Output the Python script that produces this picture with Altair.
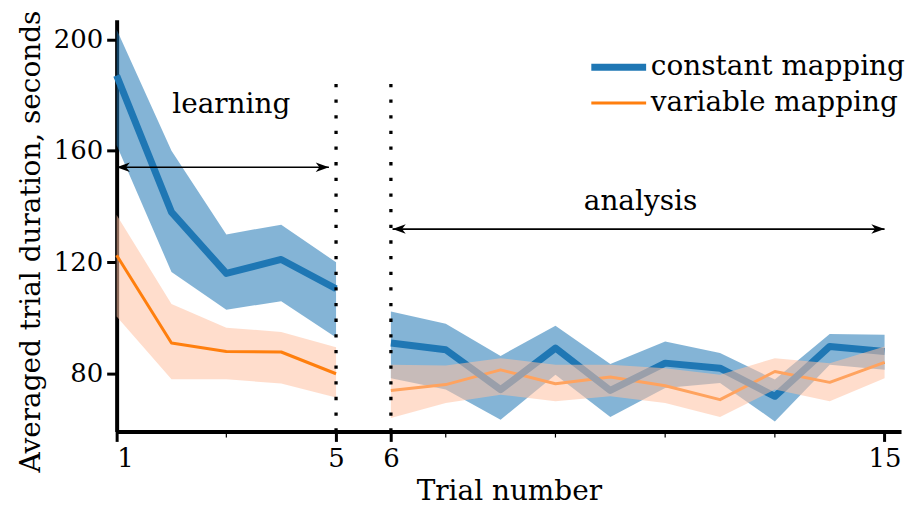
import altair as alt
import pandas as pd

# ---- data ----
series_names = ["constant mapping", "variable mapping"]
trials_learning = [1, 2, 3, 4, 5]
trials_analysis = [6, 7, 8, 9, 10, 11, 12, 13, 14, 15]

const_mean_l = [187.0, 138.0, 116.0, 121.0, 110.5]
const_hi_l = [203.5, 160.0, 130.0, 133.5, 120.0]
const_lo_l = [162.0, 116.5, 103.0, 106.0, 93.0]
var_mean_l = [122.5, 91.0, 88.0, 87.8, 80.0]
var_hi_l = [137.0, 105.0, 96.5, 95.0, 89.5]
var_lo_l = [100.5, 78.0, 78.0, 76.5, 71.5]

const_mean_a = [91.0, 88.6, 74.3, 89.2, 74.0, 83.8, 82.0, 71.9, 89.8, 88.0]
const_hi_a = [102.3, 97.9, 86.4, 97.2, 83.5, 91.6, 87.4, 77.9, 94.3, 94.0]
const_lo_a = [78.4, 74.3, 63.5, 79.6, 64.5, 74.9, 76.7, 62.9, 83.2, 81.4]
var_mean_a = [74.0, 76.1, 81.4, 76.4, 78.8, 75.7, 70.7, 80.8, 76.9, 84.1]
var_hi_a = [83.2, 83.0, 85.6, 83.2, 83.2, 82.0, 79.6, 85.6, 83.8, 89.8]
var_lo_a = [64.1, 69.5, 72.5, 70.1, 71.9, 69.5, 64.5, 74.3, 70.1, 78.4]

# annotations
phase_labels = ["learning", "analysis"]
phase_label_x = [3.09, 10.55]
phase_label_y = [173.5, 138.6]
arrow_x1 = [1.0, 6.03]
arrow_x2 = [4.87, 15.0]
arrow_y = [154.1, 131.9]
divider_x = [5, 6]
divider_top = 186.3
minor_tick_x = [3, 7, 9, 11, 13]
major_tick_x = [1, 5, 6, 15]
y_ticks = [80, 120, 160, 200]

Y_MIN, Y_MAX = 59.3, 207.0
X_MIN, X_MAX = 1.0, 15.3

BLUE = "#1f77b4"
ORANGE = "#ff7f0e"
FONT = "DejaVu Serif"

rows = []
def add(series, segment, trials, mean, lo, hi):
    for t, m, l, h in zip(trials, mean, lo, hi):
        rows.append(dict(trial=t, series=series, segment=segment, mean=m, lo=l, hi=h))

add(series_names[0], "learning", trials_learning, const_mean_l, const_lo_l, const_hi_l)
add(series_names[0], "analysis", trials_analysis, const_mean_a, const_lo_a, const_hi_a)
add(series_names[1], "learning", trials_learning, var_mean_l, var_lo_l, var_hi_l)
add(series_names[1], "analysis", trials_analysis, var_mean_a, var_lo_a, var_hi_a)
df = pd.DataFrame(rows)

xscale = alt.Scale(domain=[X_MIN, X_MAX], nice=False, zero=False)
yscale = alt.Scale(domain=[Y_MIN, Y_MAX], nice=False, zero=False)

x_enc = alt.X("trial:Q", scale=xscale,
              axis=alt.Axis(values=major_tick_x, title="Trial number", format="d",
                            titlePadding=6, labelPadding=4, tickSize=10))
y_lo = alt.Y("lo:Q", scale=yscale,
             axis=alt.Axis(values=y_ticks, title="Averaged trial duration, seconds",
                           titlePadding=8, labelPadding=4, tickSize=10, titleY=222))

base = alt.Chart(df)

const_band = base.transform_filter(alt.datum.series == series_names[0]).mark_area(
    color=BLUE, opacity=0.55).encode(x=x_enc, y=y_lo, y2="hi:Q", detail="segment:N")
var_band = base.transform_filter(alt.datum.series == series_names[1]).mark_area(
    color="#ffc1a2", opacity=0.55).encode(x="trial:Q", y="lo:Q", y2="hi:Q", detail="segment:N")

legend = alt.Legend(title=None, orient="none", legendX=500, legendY=30,
                    symbolType="M-3,0L1,0", symbolSize=756,
                    labelFont=FONT, labelFontSize=28, labelColor="black",
                    labelOffset=1, rowPadding=6, labelLimit=400)
color_enc = alt.Color("series:N", scale=alt.Scale(domain=series_names, range=[BLUE, ORANGE]),
                      legend=legend)
sw_enc = alt.StrokeWidth("series:N", scale=alt.Scale(domain=series_names, range=[7, 3]),
                         legend=legend)

def line_layer(series, segment):
    return base.transform_filter(
        (alt.datum.series == series) & (alt.datum.segment == segment)
    ).mark_line(strokeCap="butt", strokeJoin="round").encode(
        x="trial:Q", y="mean:Q", color=color_enc, strokeWidth=sw_enc)

var_line_a = line_layer(series_names[1], "analysis")
var_line_l = line_layer(series_names[1], "learning")
const_line_a = line_layer(series_names[0], "analysis")
const_line_l = line_layer(series_names[0], "learning")

div_df = pd.DataFrame({"x": divider_x, "y0": [Y_MIN] * 2, "y1": [divider_top] * 2})
dividers = alt.Chart(div_df).mark_rule(color="black", strokeWidth=3.3,
                                       strokeDash=[3.3, 12.4]).encode(
    x="x:Q", y="y0:Q", y2="y1:Q")

arr_df = pd.DataFrame({"x1": arrow_x1, "x2": arrow_x2, "y": arrow_y})
shafts = alt.Chart(arr_df).mark_rule(color="black", strokeWidth=1.6).encode(
    x="x1:Q", x2="x2:Q", y="y:Q")
RIGHT_HEAD = "M0,0 L-1,-0.36 L-0.72,0 L-1,0.36 Z"
LEFT_HEAD = "M0,0 L1,-0.36 L0.72,0 L1,0.36 Z"
heads_r = alt.Chart(arr_df).mark_point(shape=RIGHT_HEAD, filled=True, color="black",
                                       size=700, opacity=1).encode(x="x2:Q", y="y:Q")
heads_l = alt.Chart(arr_df).mark_point(shape=LEFT_HEAD, filled=True, color="black",
                                       size=700, opacity=1).encode(x="x1:Q", y="y:Q")

lab_df = pd.DataFrame({"t": phase_labels, "x": phase_label_x, "y": phase_label_y})
labels = alt.Chart(lab_df).mark_text(font=FONT, fontSize=28, color="black",
                                     align="center", baseline="alphabetic").encode(
    x="x:Q", y="y:Q", text="t:N")

minor_df = pd.DataFrame({"x": minor_tick_x, "y0": [Y_MIN] * len(minor_tick_x),
                         "y1": [Y_MIN - 2.2] * len(minor_tick_x)})
minor = alt.Chart(minor_df).mark_rule(color="black", strokeWidth=1.2).encode(
    x="x:Q", y="y0:Q", y2="y1:Q")

chart = alt.layer(const_band, var_line_a, const_line_a, const_line_l, var_band, var_line_l,
                  dividers, shafts, heads_l, heads_r, labels, minor).properties(
    width=787, height=413,
    autosize=alt.AutoSizeParams(type="none"),
    padding={"left": 109, "top": 11, "right": 8, "bottom": 78}
).configure_view(stroke=None).configure_axis(
    grid=False, labelFont=FONT, labelFontSize=26, labelColor="black",
    titleFont=FONT, titleFontSize=28, titleFontWeight="normal", titleColor="black",
    domainColor="black", domainWidth=4, tickColor="black", tickWidth=3
)

chart.save("out.html", embed_options={"renderer": "svg", "actions": False})
